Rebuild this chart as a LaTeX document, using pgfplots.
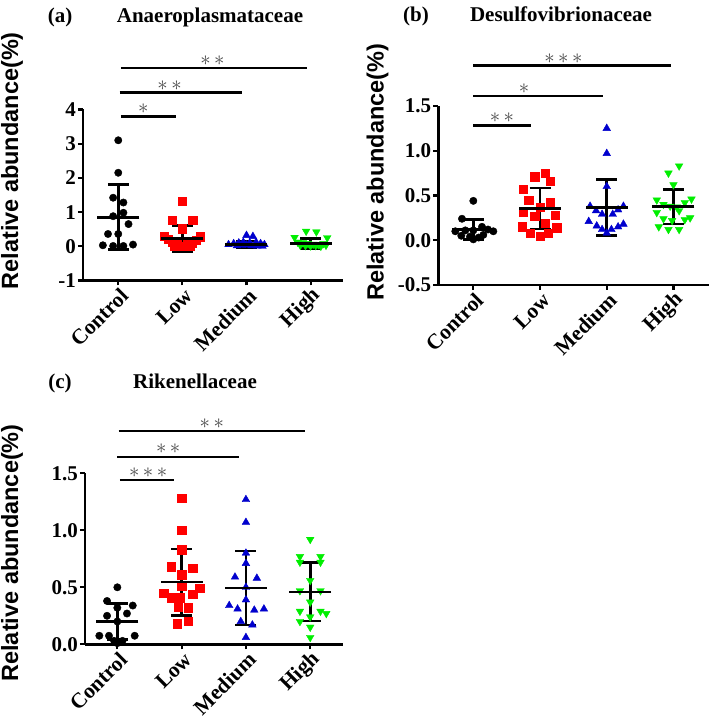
\documentclass[border=0pt]{standalone}
\usepackage{fontspec}
\setmainfont{Liberation Serif}
\newfontfamily\arialfont{Liberation Sans}
\usepackage{pgfplots}
\pgfplotsset{compat=1.18}
\definecolor{pred}{RGB}{255,0,0}
\definecolor{pblue}{RGB}{0,0,205}
\definecolor{pgreen}{RGB}{0,238,0}
\newcommand\ytickfont{\fontsize{21}{21}\selectfont\bfseries}
\newcommand\xtickfont{\fontsize{21.5}{21.5}\selectfont\bfseries}
\newcommand\labfont{\arialfont\fontsize{23.5}{24}\selectfont\bfseries}
\newcommand\titfont{\fontsize{21}{21}\selectfont\bfseries}
\newcommand\sone{$\ast$}
\newcommand\stwo{${\ast}\,{\ast}$}
\newcommand\sthree{${\ast}\,{\ast}\,{\ast}$}
\tikzset{
  sig/.style={line width=2.5pt},
  star/.style={text=black!72, font=\fontsize{20}{20}\selectfont, inner sep=1pt, anchor=base},
}
\pgfplotsset{
  panel/.style={
    scale only axis, anchor=south west, clip=false,
    axis x line*=bottom, axis y line*=left,
    axis line style={line width=2.5pt,-},
    xtick={0,1,2,3}, xticklabels={Control,Low,Medium,High},
    tick align=outside, major tick length=5pt,
    tick style={line width=2.2pt, black},
    xticklabel style={xshift=7pt, yshift=-6pt, rotate=45, anchor=east, font=\xtickfont, inner sep=1pt},
    yticklabel style={font=\ytickfont, inner sep=2pt},
    ylabel={Relative abundance(\%)},
  },
  pts/.style={only marks, mark options={draw=none}},
  mbar/.style={only marks, black, mark=-, mark size=21pt, mark options={line width=2.6pt},
    error bars/.cd, y dir=both, y explicit, error mark=|,
    error mark options={mark size=10.5pt, line width=2.6pt, black},
    error bar style={line width=2.6pt, black}},
}
\begin{document}
\begin{tikzpicture}
\path[use as bounding box] (0,0) rectangle (709pt,720pt);
\node[font=\titfont, anchor=base] at (60pt,697pt) {(a)};
\node[font=\titfont, anchor=base] at (210pt,697pt) {Anaeroplasmataceae};
\node[font=\titfont, anchor=base] at (416pt,698pt) {(b)};
\node[font=\titfont, anchor=base] at (561pt,698pt) {Desulfovibrionaceae};
\node[font=\titfont, anchor=base] at (60pt,331.5pt) {(c)};
\node[font=\titfont, anchor=base] at (195pt,331.5pt) {Rikenellaceae};

% ---------- (a)
\begin{axis}[panel, at={(83pt,439.5pt)}, width=260.3pt, height=171pt,
  xmin=-0.55, xmax=3.51, ymin=-1, ymax=4,
  ytick={-1,0,1,2,3,4}, yticklabels={-1,0,1,2,3,4},
  every axis y label/.style={at={(axis description cs:-0.273,0.70)}, rotate=90, anchor=center, font=\labfont}]
\addplot[pts, mark=*, mark size=3.7pt, black] coordinates {
 (0,3.10) (0,2.15) (-0.08,1.42) (0.08,1.28) (-0.08,0.88) (0.08,0.98) (0.16,0.65)
 (-0.16,0.36) (0,0.36) (-0.24,0.03) (-0.08,0.01) (0.08,0.01) (0.23,0.05)};
\addplot[pts, mark=square*, mark size=4.2pt, pred] coordinates {
 (1,1.32) (0.84,0.77) (1.16,0.77) (1,0.52) (0.72,0.3) (1.28,0.28) (0.78,0.2) (1.22,0.18)
 (0.85,0.12) (1.15,0.1) (0.92,0.06) (1.08,0.05) (0.88,0.02) (1.12,0.02) (0.97,0.01) (1.03,0.0)};
\addplot[pts, mark=triangle*, mark size=4.4pt, pblue] coordinates {
 (2,0.32) (2.1,0.29) (1.72,0.05) (1.8,0.08) (1.88,0.1) (1.95,0.12) (2.05,0.1) (2.15,0.12)
 (2.22,0.08) (2.28,0.05) (1.85,0.02) (1.93,0.03) (2.0,0.04) (2.08,0.02) (2.17,0.01) (2.25,0.0)};
\addplot[pts, mark=triangle*, mark size=4.4pt, mark options={rotate=180}, pgreen] coordinates {
 (2.93,0.44) (3.09,0.42) (2.75,0.26) (3.26,0.25) (2.8,0.12) (2.88,0.1) (2.96,0.08) (3.04,0.06)
 (3.12,0.05) (3.2,0.08) (2.84,0.03) (2.92,0.02) (3.0,0.01) (3.08,0.02) (3.16,0.0) (3.24,0.03)};
\addplot[mbar] coordinates {(0,0.85) +- (0,0.95) (1,0.22) +- (0,0.39) (2,0.05) +- (0,0.1) (3,0.08) +- (0,0.15)};
\draw[sig] (axis cs:0.04,3.79) -- (axis cs:0.9,3.79);
\draw[sig] (axis cs:0.02,4.49) -- (axis cs:1.93,4.49);
\draw[sig] (axis cs:0.04,5.22) -- (axis cs:2.94,5.22);
\node[star] at (axis cs:0.39,3.87) {\sone};
\node[star] at (axis cs:0.8,4.57) {\stwo};
\node[star] at (axis cs:1.47,5.30) {\stwo};
\end{axis}

% ---------- (b)
\begin{axis}[panel, at={(438.3pt,435pt)}, width=270.5pt, height=179pt,
  xmin=-0.525, xmax=3.53, ymin=-0.5, ymax=1.5,
  ytick={-0.5,0,0.5,1,1.5}, yticklabels={-0.5,0.0,0.5,1.0,1.5},
  every axis y label/.style={at={(axis description cs:-0.2245,0.63)}, rotate=90, anchor=center, font=\labfont}]
\addplot[pts, mark=*, mark size=3.7pt, black] coordinates {
 (0,0.44) (-0.17,0.24) (-0.27,0.1) (-0.12,0.11) (0,0.11) (0.13,0.15) (0.22,0.12) (0.3,0.1)
 (-0.18,0.05) (-0.05,0.04) (0.08,0.03) (0,0.01) (0.15,0.06)};
\addplot[pts, mark=square*, mark size=4.2pt, pred] coordinates {
 (1.08,0.75) (0.92,0.71) (1.15,0.66) (0.75,0.57) (0.83,0.45) (1.15,0.42) (1,0.37) (0.75,0.31)
 (1.23,0.28) (0.92,0.27) (1.08,0.19) (0.73,0.15) (1.25,0.14) (0.85,0.08) (1.12,0.08) (1,0.045)};
\addplot[pts, mark=triangle*, mark size=4.4pt, pblue] coordinates {
 (2,1.25) (2,0.97) (2,0.6) (1.75,0.38) (2.25,0.38) (1.84,0.33) (2.17,0.34) (1.93,0.29)
 (2.09,0.29) (1.73,0.21) (2.25,0.18) (1.85,0.16) (2.17,0.15) (1.93,0.12) (2.07,0.12) (2,0.08)};
\addplot[pts, mark=triangle*, mark size=4.4pt, mark options={rotate=180}, pgreen] coordinates {
 (3.085,0.83) (2.925,0.75) (3,0.62) (2.75,0.45) (3.27,0.46) (2.85,0.4) (3.17,0.42) (2.95,0.38)
 (3.05,0.37) (3.085,0.33) (2.75,0.31) (3.25,0.25) (2.85,0.24) (2.98,0.22) (3.17,0.23) (2.78,0.15)
 (2.925,0.12) (3.085,0.12)};
\addplot[mbar] coordinates {(0,0.12) +- (0,0.115) (1,0.355) +- (0,0.23) (2,0.365) +- (0,0.315) (3,0.375) +- (0,0.195)};
\draw[sig] (axis cs:0,1.28) -- (axis cs:0.86,1.28);
\draw[sig] (axis cs:0,1.61) -- (axis cs:1.95,1.61);
\draw[sig] (axis cs:0,1.95) -- (axis cs:2.97,1.95);
\node[star] at (axis cs:0.43,1.31) {\stwo};
\node[star] at (axis cs:0.76,1.64) {\sone};
\node[star] at (axis cs:1.35,1.98) {\sthree};
\end{axis}

% ---------- (c)
\begin{axis}[panel, at={(85pt,75.7pt)}, width=258pt, height=171pt,
  xmin=-0.503, xmax=3.51, ymin=0, ymax=1.5,
  ytick={0,0.5,1,1.5}, yticklabels={0.0,0.5,1.0,1.5},
  every axis y label/.style={at={(axis description cs:-0.283,0.534)}, rotate=90, anchor=center, font=\labfont}]
\addplot[pts, mark=*, mark size=3.7pt, black] coordinates {
 (0,0.5) (-0.16,0.38) (0,0.32) (0.24,0.34) (-0.16,0.25) (0.15,0.27) (0,0.2)
 (-0.28,0.075) (-0.13,0.075) (0.27,0.075) (-0.05,0.03) (0.08,0.03) (0,0.01)};
\addplot[pts, mark=square*, mark size=4.2pt, pred] coordinates {
 (1,1.28) (1,1.0) (1,0.83) (0.84,0.68) (1.17,0.67) (1,0.61) (1,0.51) (0.72,0.45)
 (1.28,0.49) (0.84,0.41) (0.98,0.41) (1.17,0.44) (0.95,0.33) (1.1,0.32) (0.93,0.18) (1.1,0.2)};
\addplot[pts, mark=triangle*, mark size=4.4pt, pblue] coordinates {
 (2,1.27) (2,1.07) (2,0.8) (2,0.71) (1.83,0.59) (2.17,0.58) (2,0.5) (2,0.39)
 (1.74,0.34) (1.87,0.31) (2.13,0.3) (2.28,0.31) (1.92,0.2) (2.1,0.17) (2,0.06)};
\addplot[pts, mark=triangle*, mark size=4.4pt, mark options={rotate=180}, pgreen] coordinates {
 (3,0.92) (2.84,0.77) (3.16,0.77) (2.84,0.72) (3.16,0.72) (3,0.56) (2.84,0.47) (3.16,0.47)
 (3,0.37) (2.84,0.29) (3.16,0.29) (3.25,0.27) (2.84,0.2) (3,0.24) (3,0.15) (3,0.06)};
\addplot[mbar] coordinates {(0,0.2) +- (0,0.16) (1,0.545) +- (0,0.29) (2,0.495) +- (0,0.325) (3,0.46) +- (0,0.255)};
\draw[sig] (axis cs:0.04,1.44) -- (axis cs:0.88,1.44);
\draw[sig] (axis cs:0,1.645) -- (axis cs:1.9,1.645);
\draw[sig] (axis cs:0.02,1.87) -- (axis cs:2.92,1.87);
\node[star] at (axis cs:0.48,1.465) {\sthree};
\node[star] at (axis cs:0.79,1.67) {\stwo};
\node[star] at (axis cs:1.47,1.895) {\stwo};
\end{axis}
\end{tikzpicture}
\end{document}
